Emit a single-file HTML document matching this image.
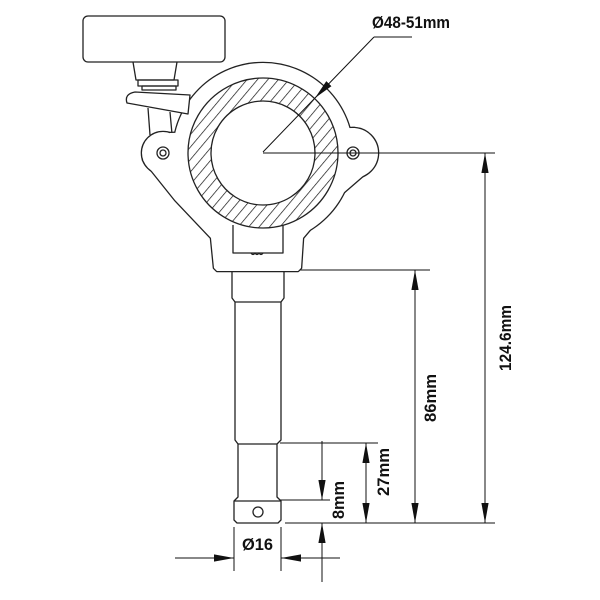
<!DOCTYPE html>
<html><head><style>
html,body{margin:0;padding:0;background:#fff}
svg{display:block}
text{font-family:"Liberation Sans Narrow","Liberation Sans",sans-serif;font-weight:bold;fill:#111}
</style></head><body>
<svg width="600" height="600" viewBox="0 0 600 600" xmlns="http://www.w3.org/2000/svg">
<defs>
<pattern id="h" patternUnits="userSpaceOnUse" width="8" height="8" patternTransform="rotate(40)">
<line x1="0" y1="0" x2="0" y2="8" stroke="#111" stroke-width="1.4"/>
</pattern>
<marker id="b" viewBox="0 0 10 10" refX="10" refY="5" markerWidth="20" markerHeight="8" markerUnits="userSpaceOnUse" orient="auto-start-reverse" preserveAspectRatio="none">
<path d="M0,0.5 L10,5 L0,9.5 Z" fill="#111"/>
</marker>
</defs>
<g fill="none" stroke="#222" stroke-width="1.3" stroke-linejoin="round">
<rect x="83" y="16" width="142" height="46" rx="5" fill="#fff"/>
<path d="M133,62 L136,80 L174,80 L177,62"/>
<rect x="138" y="80" width="40" height="6"/>
<rect x="142" y="86" width="34" height="4"/>
<path d="M148,108 L150,135 M170,112 L172,134"/>
</g>
<g stroke="#222" stroke-width="2.6" fill="#fff" stroke-linejoin="round">
<circle cx="263" cy="153" r="90"/>
<circle cx="163" cy="153" r="21"/>
<circle cx="353" cy="153" r="25"/>
<polygon points="143,160 175,200 211,238 214,268 217,271 298,271 301,268 303,238 335,200 372,168 355,128 170,133"/>
</g>
<g fill="#fff" stroke="none">
<circle cx="263" cy="153" r="90"/>
<circle cx="163" cy="153" r="21"/>
<circle cx="353" cy="153" r="25"/>
<polygon points="143,160 175,200 211,238 214,268 217,271 298,271 301,268 303,238 335,200 372,168 355,128 170,133"/>
</g>
<g fill="none" stroke="#222" stroke-width="1.3" stroke-linejoin="round">
<path d="M190,95 L135,92 Q124,94 127,103 L188,114 Z" fill="#fff"/>
<circle cx="163" cy="153" r="6"/><circle cx="163" cy="153" r="3"/>
<circle cx="353" cy="153" r="6"/><circle cx="353" cy="153" r="3"/>
<path d="M233,225 L233,253 L283,253 L283,225"/>
<path d="M251,253 q2,3 4,0 q2,3 4,0 q2,3 4,0"/>
<path d="M263,78 a75,75 0 1,0 0.01,0 Z M263,101 a52,52 0 1,1 -0.01,0 Z" fill="url(#h)" fill-rule="evenodd" stroke="#222"/>
<path d="M232,271 L232,298 L235,302 L235,440 L238,444 L238,497 L234,501 L234,520 L237,523 L278,523 L281,520 L281,501 L277,497 L277,444 L281,440 L281,302 L284,298 L284,271"/>
<path d="M235,302 L281,302 M238,444 L277,444 M234,501 L281,501"/>
<circle cx="258" cy="512" r="5"/>
</g>
<g stroke="#111" stroke-width="1" fill="none">
<line x1="263" y1="153" x2="495" y2="153"/>
<line x1="285" y1="523" x2="495" y2="523"/>
<line x1="485" y1="153" x2="485" y2="523" marker-start="url(#b)" marker-end="url(#b)"/>
<line x1="300" y1="270" x2="430" y2="270"/>
<line x1="415" y1="270" x2="415" y2="523" marker-start="url(#b)" marker-end="url(#b)"/>
<line x1="280" y1="443" x2="378" y2="443"/>
<line x1="366" y1="443" x2="366" y2="523" marker-start="url(#b)" marker-end="url(#b)"/>
<line x1="280" y1="500" x2="330" y2="500"/>
<line x1="322" y1="441" x2="322" y2="500" marker-end="url(#b)"/>
<line x1="322" y1="582" x2="322" y2="523" marker-end="url(#b)"/>
<line x1="234" y1="527" x2="234" y2="571"/>
<line x1="281" y1="527" x2="281" y2="571"/>
<line x1="175" y1="558" x2="234" y2="558" marker-end="url(#b)"/>
<line x1="340" y1="558" x2="281" y2="558" marker-end="url(#b)"/>
<line x1="374" y1="37" x2="412" y2="37"/>
<line x1="374" y1="37" x2="315" y2="98" marker-end="url(#b)"/>
<line x1="315" y1="98" x2="263" y2="152"/>
</g>
<text x="372" y="28" font-size="17" textLength="78" lengthAdjust="spacingAndGlyphs">Ø48-51mm</text>
<text x="242" y="550" font-size="17" textLength="31" lengthAdjust="spacingAndGlyphs">Ø16</text>
<text transform="translate(511,338) rotate(-90)" font-size="17" text-anchor="middle" textLength="66" lengthAdjust="spacingAndGlyphs">124.6mm</text>
<text transform="translate(436,398) rotate(-90)" font-size="17" text-anchor="middle" textLength="48" lengthAdjust="spacingAndGlyphs">86mm</text>
<text transform="translate(389,472) rotate(-90)" font-size="17" text-anchor="middle" textLength="48" lengthAdjust="spacingAndGlyphs">27mm</text>
<text transform="translate(344,500) rotate(-90)" font-size="17" text-anchor="middle" textLength="38" lengthAdjust="spacingAndGlyphs">8mm</text>
</svg>
</body></html>
